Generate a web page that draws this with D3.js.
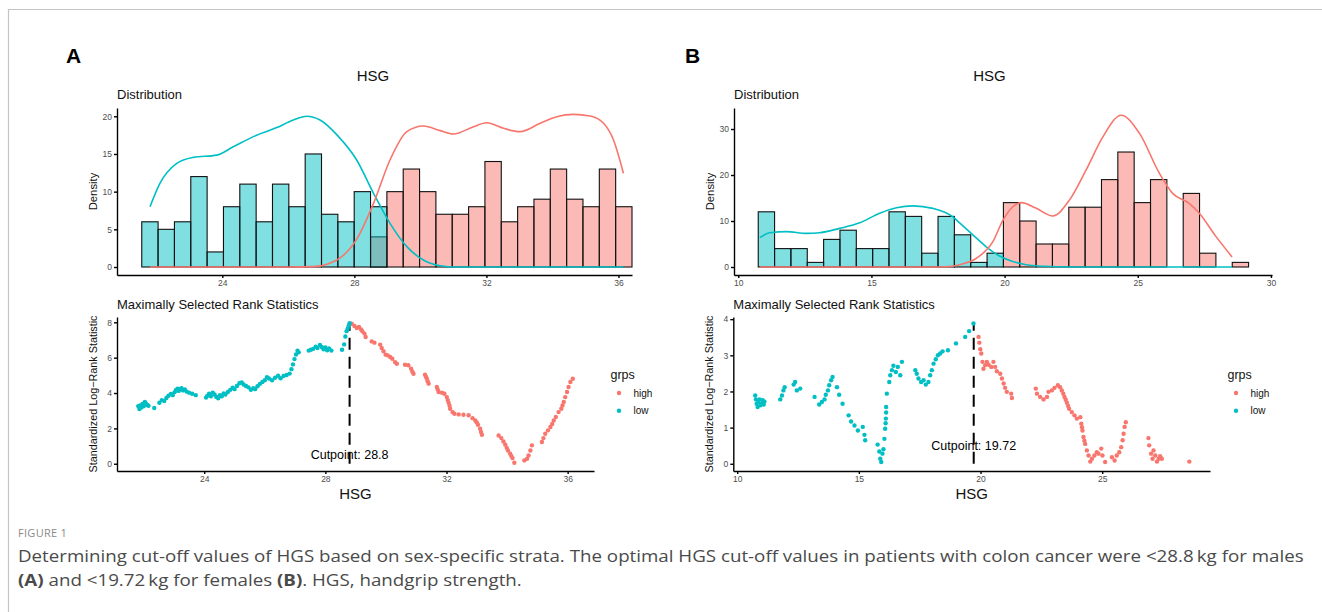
<!DOCTYPE html>
<html>
<head>
<meta charset="utf-8">
<script src="https://cdn.jsdelivr.net/npm/d3@7"></script>
<style>
body { margin: 0; background: #fff; }
svg { display: block; font-family: "Liberation Sans", Arial, sans-serif; }
.axis path, .axis line { stroke: #000; stroke-width: 1.4; }
.axis text { fill: #4d4d4d; font-size: 8.5px; font-family: "Liberation Sans", Arial, sans-serif; }
</style>
</head>
<body>
<div id="chart"></div>
<script>
// ---------- data ----------
// panel A (males)
const binStartA = 21.56, binWidthA = 0.495;
const lowCountsA  = [6,5,6,12,2,8,11,6,11,8,15,7,6,10,8, 0,0,0,0,0,0,0,0,0,0,0,0,0,0,0];
const highCountsA = [0,0,0,0,0,0,0,0,0,0,0,0,0,0,4, 10,13,10,7,7,8,14,6,8,9,13,9,8,13,8];
const densLowAx  = [21.81,22.11,22.62,23.12,23.83,24.33,24.94,25.65,26.15,26.56,26.96,27.5,28.07,28.58,29.08,29.59,30.09,30.6,31.1,32,33,34,35,36.15];
const densLowAy  = [8.0,11.1,13.75,14.55,14.85,15.95,17.3,18.5,19.5,20.0,19.5,17.4,14.2,9.78,5.8,2.7,0.93,0.17,0,0,0,0,0,0];
const densHighAx = [21.81,23,24,25,26,26.75,27.2,27.6,28.1,28.58,29.08,29.59,30.09,30.6,31.0,31.61,32.01,32.52,33.02,33.63,34.13,34.64,35.14,35.55,35.85,36.15];
const densHighAy = [0,0,0,0,0,0.05,0.4,1.3,3.9,8.45,14.2,17.96,18.71,18.1,17.65,18.62,19.15,18.4,17.96,19.07,19.95,20.26,20.04,19.07,16.85,12.43];
const cutA = 28.8;
const ticksHistXA = [24,28,32,36], ticksHistYA = [0,5,10,15,20];
const ticksStatXA = [24,28,32,36], ticksStatYA = [0,2,4,6,8];
const lowPtsA = [
  [21.82,3.26],[21.86,3.10],[21.88,3.30],[21.92,3.18],[21.96,3.38],[22.00,3.25],[22.04,3.50],[22.08,3.40],[22.12,3.32],[22.16,3.28],
  [22.35,3.15],[22.52,3.45],[22.60,3.60],[22.68,3.55],[22.75,3.72],[22.82,3.85],[22.90,3.95],[22.96,3.88],[23.02,4.05],[23.07,4.18],
  [23.12,4.25],[23.16,4.12],[23.20,4.22],[23.25,4.28],[23.30,4.15],[23.36,4.20],[23.42,4.08],[23.50,4.02],[23.60,3.96],[23.72,3.88],
  [24.06,3.74],[24.10,3.84],[24.16,3.96],[24.22,3.82],[24.28,4.02],[24.34,3.92],[24.40,3.78],[24.46,3.70],[24.52,3.88],[24.58,3.82],
  [24.64,3.98],[24.70,3.92],[24.78,4.06],[24.86,4.18],[24.94,4.30],[25.00,4.22],[25.08,4.40],[25.16,4.55],[25.24,4.60],[25.30,4.48],
  [25.38,4.40],[25.46,4.32],[25.54,4.18],[25.62,4.28],[25.68,4.22],[25.76,4.38],[25.84,4.52],[25.92,4.62],[26.00,4.72],[26.07,4.90],
  [26.14,4.82],[26.24,4.72],[26.34,4.86],[26.44,4.98],[26.52,4.84],[26.62,4.96],[26.72,5.02],[26.82,5.10],[26.88,5.35],[26.93,5.62],
  [26.98,5.92],[27.03,6.18],[27.08,6.40],[27.12,6.30],[27.45,6.40],[27.52,6.45],[27.60,6.50],[27.68,6.62],[27.74,6.55],[27.82,6.72],
  [27.88,6.60],[27.94,6.48],[28.00,6.58],[28.06,6.42],[28.12,6.52],[28.20,6.40],[28.55,6.45],[28.62,6.75],[28.66,7.20],[28.70,7.50],
  [28.74,7.65],[28.77,7.80],[28.80,7.95]
];
const highPtsA = [
  [28.87,7.92],[28.96,7.79],[29.04,7.68],[29.11,7.74],[29.18,7.60],[29.22,7.49],[29.29,7.36],[29.33,7.17],[29.53,6.92],[29.62,6.85],
  [29.81,6.74],[29.86,6.55],[29.92,6.36],[29.99,6.17],[30.06,6.13],[30.14,6.04],[30.21,5.94],[30.30,5.75],[30.36,5.66],[30.63,5.60],
  [30.74,5.57],[30.83,5.38],[30.87,5.22],[30.91,5.09],[31.29,5.04],[31.32,4.92],[31.35,4.81],[31.38,4.66],[31.41,4.53],[31.68,4.34],
  [31.71,4.20],[31.74,4.06],[31.85,4.02],[31.93,3.96],[32.01,3.77],[32.04,3.60],[32.07,3.45],[32.10,3.28],[32.12,3.11],[32.20,2.92],
  [32.26,2.83],[32.40,2.79],[32.56,2.77],[32.73,2.74],[32.86,2.58],[32.95,2.45],[33.00,2.33],[33.04,2.21],[33.11,1.98],[33.14,1.80],
  [33.17,1.64],[33.72,1.60],[33.81,1.45],[33.88,1.26],[33.94,1.08],[33.99,0.90],[34.03,0.75],[34.10,0.57],[34.14,0.44],[34.18,0.32],
  [34.24,0.06],[34.57,0.19],[34.66,0.28],[34.71,0.47],[34.77,0.75],[34.82,1.04],[35.15,1.23],[35.20,1.45],[35.26,1.70],[35.35,1.89],
  [35.43,2.08],[35.49,2.25],[35.54,2.45],[35.61,2.64],[35.70,2.92],[35.79,3.11],[35.83,3.30],[35.87,3.49],[35.92,3.77],[35.98,4.06],
  [36.03,4.34],[36.09,4.62],[36.17,4.81]
];

// panel B (females)
const binStartB = 10.75, binWidthB = 0.6137;
const lowCountsB  = [12,4,4,1,6,8,4,4,12,11,3,11,7,1,3, 0,0,0,0,0,0,0,0,0,0,0,0,0,0,0];
const highCountsB = [0,0,0,0,0,0,0,0,0,0,0,0,0,0,0, 14,10,5,5,13,13,19,25,14,19,0,16,3,0,1];
const densLowBx  = [10.81,11.19,11.81,12.56,13.06,13.81,14.56,15.31,15.94,16.56,17.31,18.06,18.31,18.81,19.31,19.81,20.31,20.81,21.5,22.5,24,26,28.54];
const densLowBy  = [6.37,7.46,7.7,7.3,7.46,8.4,9.6,11.7,12.9,13.3,12.75,10.9,9.6,7.0,4.4,2.4,1.2,0.5,0.15,0,0,0,0];
const densHighBx = [10.81,13,15,17,17.8,18.31,18.94,19.56,19.94,20.31,20.63,21.19,21.81,22.44,23.06,23.69,24.38,25.06,25.81,26.31,26.94,27.31,27.94,28.54];
const densHighBy = [0,0,0,0,0.05,0.5,1.9,5.5,10.2,13.1,14.0,12.75,11.1,14.6,21.1,28.3,33.0,29.1,20.4,16.0,13.8,11.7,6.6,2.2];
const cutB = 19.72;
const ticksHistXB = [10,15,20,25,30], ticksHistYB = [0,10,20,30];
const ticksStatXB = [10,15,20,25], ticksStatYB = [0,1,2,3,4];
const lowPtsB = [
  [10.74,1.89],[10.77,1.78],[10.80,1.66],[10.84,1.57],[10.87,1.71],[10.92,1.78],[10.96,1.62],[11.01,1.66],[11.05,1.76],[11.09,1.64],
  [11.12,1.72],[11.77,1.78],[11.84,1.89],[11.90,2.03],[11.95,2.12],[12.32,2.19],[12.38,2.26],[12.45,2.03],[12.59,2.08],[13.18,1.85],
  [13.37,1.64],[13.48,1.71],[13.59,1.78],[13.64,1.91],[13.73,2.03],[13.78,2.17],[13.86,2.31],[13.92,2.40],[14.10,2.12],[14.19,1.91],
  [14.33,1.66],[14.58,1.34],[14.68,1.17],[14.82,1.06],[14.96,0.92],[15.16,1.02],[15.23,0.80],[15.26,0.65],[15.77,0.53],[15.84,0.34],
  [15.88,0.14],[15.92,0.05],[15.97,0.28],[16.01,0.40],[16.05,0.69],[16.08,0.97],[16.10,1.12],[16.11,1.25],[16.12,1.42],[16.12,1.57],
  [16.15,1.94],[16.25,2.26],[16.29,2.45],[16.36,2.59],[16.42,2.71],[16.52,2.54],[16.60,2.68],[16.70,2.45],[16.77,2.82],[17.32,2.59],
  [17.38,2.49],[17.45,2.36],[17.56,2.26],[17.66,2.31],[17.75,2.19],[17.86,2.26],[17.93,2.45],[18.00,2.59],[18.07,2.77],[18.16,2.89],
  [18.25,3.00],[18.34,3.05],[18.44,3.11],[18.66,3.14],[18.99,3.33],[19.37,3.51],[19.53,3.67],[19.71,3.88]
];
const highPtsB = [
  [19.92,3.51],[19.95,3.35],[19.99,3.17],[20.03,3.05],[20.08,2.82],[20.12,2.63],[20.19,2.73],[20.26,2.82],[20.33,2.74],[20.44,2.68],
  [20.53,2.82],[20.60,2.68],[20.67,2.56],[20.81,2.49],[20.88,2.36],[20.95,2.22],[21.01,2.10],[21.08,1.99],[21.26,1.94],[21.29,1.82],
  [22.27,2.08],[22.32,1.94],[22.45,1.85],[22.59,1.78],[22.73,1.85],[22.79,1.99],[22.93,2.03],[23.04,2.10],[23.18,2.17],[23.27,2.12],
  [23.34,2.03],[23.40,1.94],[23.45,1.85],[23.50,1.77],[23.55,1.69],[23.60,1.60],[23.64,1.52],[23.75,1.43],[23.86,1.34],[23.96,1.25],
  [24.10,1.29],[24.14,1.11],[24.17,1.01],[24.19,0.92],[24.23,0.74],[24.27,0.64],[24.30,0.55],[24.37,0.37],[24.44,0.23],[24.51,0.06],
  [24.58,0.14],[24.68,0.23],[24.78,0.32],[24.85,0.28],[24.96,0.42],[25.01,0.23],[25.12,0.05],[25.40,0.18],[25.51,0.09],[25.60,0.23],
  [25.70,0.32],[25.78,0.46],[25.84,0.65],[25.88,0.83],[25.92,1.02],[25.97,1.15],[26.90,0.71],[26.93,0.51],[27.01,0.28],[27.07,0.14],
  [27.11,0.37],[27.18,0.23],[27.25,0.06],[27.32,0.14],[27.38,0.21],[27.45,0.14],[28.58,0.06]
];

const groups = ["high", "low"];
const colors = { high: "#F8766D", low: "#00BFC4" };

// ---------- drawing ----------
const width = 1322, height = 612;
const fmt = d3.format("d");
const svg = d3.select("#chart").append("svg")
  .attr("width", width).attr("height", height);

svg.append("rect").attr("width", width).attr("height", height).attr("fill", "#fff");
// figure frame
svg.append("path").attr("d", "M8.5,612V9.5H1322").attr("fill", "none")
  .attr("stroke", "#c4c4c4").attr("stroke-width", 1.2);

function zip(xs, ys) { return xs.map((v, i) => [v, ys[i]]); }

function drawPanel(p) {
  // panel letter and title
  svg.append("text").attr("x", p.letterX).attr("y", 63).text(p.letter)
    .attr("font-size", 21).attr("font-weight", "bold").attr("fill", "#000");
  svg.append("text").attr("x", p.titleX).attr("y", 80.5).attr("text-anchor", "middle")
    .attr("font-size", 15).attr("fill", "#111").text("HSG");

  // ---- distribution ----
  var x = d3.scaleLinear().domain(p.histXDom).range(p.histXRange);
  var y = d3.scaleLinear().domain(p.histYDom).range([275, 108]);

  svg.append("text").attr("x", p.histXRange[0]).attr("y", 98.5)
    .attr("font-size", 13).attr("fill", "#111").text("Distribution");

  var bars = svg.append("g");
  [["high", p.highCounts], ["low", p.lowCounts]].forEach(function (s) {
    bars.selectAll(null)
      .data(s[1].map((c, i) => ({ c: c, i: i })).filter(d => d.c > 0))
      .enter().append("rect")
      .attr("x", d => x(p.binStart + d.i * p.binWidth))
      .attr("width", d => x(p.binStart + (d.i + 1) * p.binWidth) - x(p.binStart + d.i * p.binWidth))
      .attr("y", d => y(d.c))
      .attr("height", d => y(0) - y(d.c))
      .attr("fill", colors[s[0]]).attr("fill-opacity", 0.5)
      .attr("stroke", "#111").attr("stroke-width", 1.1);
  });

  var line = d3.line().x(d => x(d[0])).y(d => y(d[1])).curve(d3.curveMonotoneX);
  svg.append("path").datum(zip(p.densLowX, p.densLowY)).attr("d", line)
    .attr("fill", "none").attr("stroke", colors.low).attr("stroke-width", 1.6);
  svg.append("path").datum(zip(p.densHighX, p.densHighY)).attr("d", line)
    .attr("fill", "none").attr("stroke", colors.high).attr("stroke-width", 1.6);

  svg.append("g").attr("class", "axis").attr("transform", "translate(0,275)")
    .call(d3.axisBottom(x).tickValues(p.histXTicks).tickFormat(fmt).tickSize(3).tickSizeOuter(0).tickPadding(1.5));
  svg.append("g").attr("class", "axis").attr("transform", "translate(" + p.histXRange[0] + ",0)")
    .call(d3.axisLeft(y).tickValues(p.histYTicks).tickFormat(fmt).tickSize(3).tickSizeOuter(0).tickPadding(2));

  svg.append("text").attr("transform", "translate(" + (p.histXRange[0] - 20) + ",191.5) rotate(-90)")
    .attr("text-anchor", "middle").attr("font-size", 11.3).attr("fill", "#111").text("Density");

  // ---- maximally selected rank statistics ----
  var sx = d3.scaleLinear().domain(p.statXDom).range(p.statXRange);
  var sy = d3.scaleLinear().domain(p.statYDom).range([471, 317]);

  svg.append("text").attr("x", p.statXRange[0]).attr("y", 308.5)
    .attr("font-size", 13).attr("fill", "#111").text("Maximally Selected Rank Statistics");

  var maxStat = d3.max(p.lowPts.concat(p.highPts), d => d[1]);
  svg.append("line")
    .attr("x1", sx(p.cut)).attr("x2", sx(p.cut))
    .attr("y1", sy(0)).attr("y2", sy(maxStat))
    .attr("stroke", "#000").attr("stroke-width", 2).attr("stroke-dasharray", "12,7");

  [["high", p.highPts], ["low", p.lowPts]].forEach(function (s) {
    svg.append("g").selectAll("circle").data(s[1]).enter().append("circle")
      .attr("cx", d => sx(d[0])).attr("cy", d => sy(d[1])).attr("r", 2.2)
      .attr("fill", colors[s[0]]);
  });

  svg.append("text").attr("x", sx(p.cut)).attr("y", p.cutLabelY).attr("text-anchor", "middle")
    .attr("font-size", 12.5).attr("fill", "#000").text("Cutpoint: " + p.cut);

  svg.append("g").attr("class", "axis").attr("transform", "translate(0,471)")
    .call(d3.axisBottom(sx).tickValues(p.statXTicks).tickFormat(fmt).tickSize(3).tickSizeOuter(0).tickPadding(1.5));
  svg.append("g").attr("class", "axis").attr("transform", "translate(" + p.statXRange[0] + ",0)")
    .call(d3.axisLeft(sy).tickValues(p.statYTicks).tickFormat(fmt).tickSize(3).tickSizeOuter(0).tickPadding(2));

  svg.append("text").attr("transform", "translate(" + (p.statXRange[0] - 20) + ",394) rotate(-90)")
    .attr("text-anchor", "middle").attr("font-size", 10.8).attr("fill", "#111")
    .text("Standardized Log\u2212Rank Statistic");
  svg.append("text").attr("x", (p.statXRange[0] + p.statXRange[1]) / 2).attr("y", 499)
    .attr("text-anchor", "middle").attr("font-size", 15).attr("fill", "#111").text("HSG");

  // legend
  var lg = svg.append("g").attr("transform", "translate(" + p.legendX + ",0)");
  lg.append("text").attr("x", 0).attr("y", 379).attr("font-size", 12.5).attr("fill", "#111").text("grps");
  groups.forEach(function (g, i) {
    lg.append("circle").attr("cx", 8.5).attr("cy", 393 + i * 17.7).attr("r", 2.2).attr("fill", colors[g]);
    lg.append("text").attr("x", 23).attr("y", 396.5 + i * 17.7).attr("font-size", 10)
      .attr("fill", "#111").text(g);
  });
}

drawPanel({
  letter: "A", letterX: 66, titleX: 373,
  histXDom: [20.81, 36.41], histXRange: [117, 632], histYDom: [-1.06, 21.1],
  histXTicks: ticksHistXA, histYTicks: ticksHistYA,
  binStart: binStartA, binWidth: binWidthA, lowCounts: lowCountsA, highCounts: highCountsA,
  densLowX: densLowAx, densLowY: densLowAy, densHighX: densHighAx, densHighY: densHighAy,
  statXDom: [21.12, 36.87], statXRange: [117, 594], statYDom: [-0.41, 8.3],
  statXTicks: ticksStatXA, statYTicks: ticksStatYA,
  lowPts: lowPtsA, highPts: highPtsA, cut: cutA, cutLabelY: 459, legendX: 610.5
});

drawPanel({
  letter: "B", letterX: 685, titleX: 989.5,
  histXDom: [9.84, 30.04], histXRange: [734, 1272], histYDom: [-1.74, 34.57],
  histXTicks: ticksHistXB, histYTicks: ticksHistYB,
  binStart: binStartB, binWidth: binWidthB, lowCounts: lowCountsB, highCounts: highCountsB,
  densLowX: densLowBx, densLowY: densLowBy, densHighX: densHighBx, densHighY: densHighBy,
  statXDom: [9.84, 29.43], statXRange: [733.3, 1210], statYDom: [-0.2, 4.06],
  statXTicks: ticksStatXB, statYTicks: ticksStatYB,
  lowPts: lowPtsB, highPts: highPtsB, cut: cutB, cutLabelY: 450, legendX: 1227.5
});

// ---------- caption ----------
svg.append("text").attr("x", 18).attr("y", 537).attr("font-family", "'Open Sans', sans-serif")
  .attr("font-size", 11).attr("fill", "#8a8a8a").attr("letter-spacing", 0.3).text("FIGURE 1");

var cap = svg.append("g").attr("font-family", "'Open Sans', sans-serif")
  .attr("font-size", 15.5).attr("fill", "#4a4a4a");
var line1 = cap.append("text").attr("x", 0).attr("y", 562)
  .text("Determining cut-off values of HGS based on sex-specific strata. The optimal HGS cut-off values in patients with colon cancer were <28.8\u2009kg for males");
var line2 = cap.append("text").attr("x", 0).attr("y", 586);
line2.append("tspan").attr("font-weight", "bold").text("(A)");
line2.append("tspan").text(" and <19.72\u2009kg for females ");
line2.append("tspan").attr("font-weight", "bold").text("(B)");
line2.append("tspan").text(". HGS, handgrip strength.");
var w1 = line1.node().getComputedTextLength();
cap.attr("transform", "translate(18,0) scale(" + (1287 / w1) + ",1)");
</script>
</body>
</html>
